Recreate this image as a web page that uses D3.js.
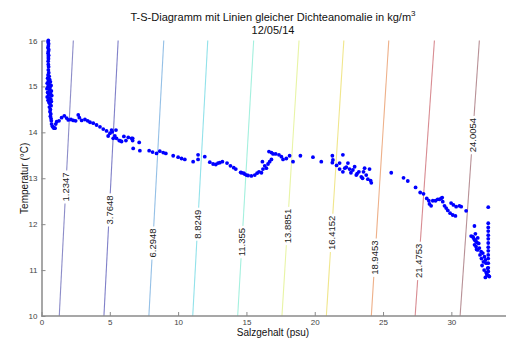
<!DOCTYPE html>
<html><head><meta charset="utf-8">
<script src="https://cdn.jsdelivr.net/npm/d3@7"></script>
<style>html,body{margin:0;padding:0;background:#fff;}svg{display:block;font-family:"Liberation Sans",Arial,sans-serif;}</style>
</head><body><svg id="c" width="516" height="338"></svg>
<script>
// ---- data ----
const xTicks = [0, 5, 10, 15, 20, 25, 30];
const yTicks = [10, 11, 12, 13, 14, 15, 16];
const levelLabels = ["1.2347","3.7648","6.2948","8.8249","11.355","13.8851","16.4152","18.9453","21.4753","24.0054"];
const levelSalBottom = [1.30, 4.57, 7.86, 11.07, 14.36, 17.60, 20.85, 24.14, 27.35, 30.64]; // S at T=10
const levelSalTop = [2.33, 5.61, 8.95, 12.17, 15.53, 18.85, 22.13, 25.42, 28.76, 32.05];    // S at T=16
const levelLabelT = [12.81, 12.31, 11.59, 12.0, 11.61, 11.96, 11.81, 11.27, 11.20, 13.94];
const levelColors = ["#8c8cc8","#8080c8","#94c0e6","#92e2ea","#a4f0de","#e8f4a6","#f0e68c","#eeb08a","#d88c92","#b89096"];
const salinity = [
0.50,0.48,0.52,0.50,0.47,0.53,0.50,0.48,0.52,0.50,0.51,0.49,0.50,0.52,0.50,0.53,0.48,0.56,0.45,0.60,0.50,0.65,0.42,0.55,0.70,0.48,0.62,0.40,0.58,0.72,0.45,0.65,0.52,0.75,0.42,0.60,0.68,0.48,0.72,0.55,0.62,0.70,0.58,0.65,0.62,0.68,0.65,0.70,0.72,
0.74,0.80,0.87,0.95,0.99,1.04,1.11,1.28,1.47,1.67,1.84,1.96,2.16,2.33,2.50,2.69,2.77,2.94,3.18,3.38,3.55,3.79,4.03,4.28,4.52,4.76,5.01,5.13,5.18,5.37,5.45,4.88,5.25,5.49,5.69,5.74,5.86,6.03,6.18,6.35,6.59,6.67,6.67,6.71,7.15,7.20,
7.88,8.13,8.42,8.66,8.91,9.10,9.64,10.00,10.25,10.49,11.10,11.46,11.46,11.95,12.32,12.56,12.76,12.92,13.05,13.24,13.58,13.83,14.07,14.22,14.58,14.80,15.00,
14.63,14.87,15.12,15.36,15.61,15.78,15.92,16.10,16.21,16.34,16.17,16.46,16.58,16.70,16.83,16.65,16.83,16.95,17.14,17.38,17.56,17.68,17.92,18.16,18.41,18.95,19.87,20.48,
21.29,21.29,21.33,21.82,22.06,21.82,22.06,22.31,22.43,22.55,22.79,22.92,23.04,23.23,23.41,23.57,23.65,23.77,23.89,24.01,24.09,24.14,21.60,22.20,22.65,23.10,23.50,
25.60,26.50,26.81,27.38,27.72,27.96,28.20,28.35,28.40,28.52,28.64,28.84,29.00,29.13,29.25,29.33,29.37,29.50,29.62,29.74,29.91,30.10,30.30,29.98,30.15,30.35,30.59,30.72,31.08,
31.69,31.76,31.56,31.69,31.81,31.93,32.00,31.81,32.05,31.93,32.18,32.30,32.42,32.49,32.54,32.66,32.66,32.49,32.78,31.45,31.62,31.75,31.88,31.70,31.85,32.10,32.20,32.35,32.25,32.40,32.55,32.60,
32.70,32.70,32.70,32.70,32.70,32.70,32.70,32.70,32.70,32.70,32.70,32.70,32.70,32.70,32.70
];
const temperature = [
16.00,15.97,15.93,15.88,15.84,15.80,15.76,15.72,15.68,15.64,15.60,15.55,15.48,15.43,15.36,15.30,15.25,15.22,15.18,15.15,15.12,15.10,15.07,15.05,15.02,15.00,14.97,14.95,14.92,14.90,14.87,14.85,14.82,14.80,14.77,14.75,14.72,14.70,14.67,14.65,14.62,14.58,14.55,14.50,14.45,14.40,14.35,14.30,14.25,
14.18,14.13,14.10,14.09,14.09,14.18,14.23,14.25,14.32,14.36,14.31,14.27,14.28,14.26,14.25,14.38,14.32,14.26,14.28,14.25,14.22,14.20,14.16,14.12,14.07,14.03,13.98,14.05,14.01,13.92,14.05,13.92,13.87,13.87,13.82,13.82,13.80,13.91,13.82,13.89,13.87,13.87,13.82,13.65,13.78,13.60,
13.60,13.57,13.54,13.59,13.56,13.54,13.49,13.46,13.43,13.41,13.36,13.51,13.41,13.47,13.35,13.31,13.30,13.33,13.34,13.36,13.33,13.27,13.23,13.20,13.13,13.11,13.07,
13.12,13.09,13.06,13.05,13.07,13.11,13.14,13.12,13.20,13.27,13.36,13.22,13.31,13.36,13.41,13.58,13.56,13.53,13.53,13.51,13.47,13.41,13.43,13.49,13.36,13.49,13.46,13.36,
13.49,13.34,13.40,13.33,13.51,13.20,13.14,13.24,13.33,13.20,13.18,13.25,13.07,13.14,13.03,13.14,13.22,13.07,12.98,13.20,12.95,12.90,13.28,13.22,13.12,13.10,13.00,
13.12,13.01,12.94,12.80,12.69,12.66,12.56,12.51,12.44,12.40,12.51,12.51,12.54,12.54,12.56,12.58,12.49,12.40,12.35,12.30,12.24,12.20,12.18,12.46,12.42,12.38,12.40,12.38,12.29,
11.96,11.79,11.73,11.66,11.62,11.70,11.58,11.51,11.48,11.44,11.40,11.37,11.29,11.22,11.15,11.04,10.89,10.84,10.86,11.74,11.70,11.65,11.60,11.55,11.45,11.33,11.25,11.18,11.10,11.00,10.95,10.90,
12.37,12.02,11.93,11.85,11.76,11.68,11.59,11.50,11.42,11.33,11.25,11.15,11.05,10.97,10.88
];

// ---- layout ----
const svg = d3.select("#c");
const x = d3.scaleLinear().domain([0, 34]).range([41.5, 506]);
const y = d3.scaleLinear().domain([10, 16]).range([316, 40.5]);
const axisColor = "#8a8a8a";

// title
const title = svg.append("text").attr("x", 273).attr("y", 21).attr("text-anchor", "middle")
  .attr("font-size", 11).attr("fill", "#111");
title.append("tspan").text("T-S-Diagramm mit Linien gleicher Dichteanomalie in kg/m");
title.append("tspan").attr("dy", -5).attr("font-size", 8).text("3");
svg.append("text").attr("x", 273).attr("y", 34).attr("text-anchor", "middle")
  .attr("font-size", 11).attr("fill", "#111").text("12/05/14");

// contour lines
const cg = svg.append("g");
const line = d3.line().x(d => x(d[0])).y(d => y(d[1]));
levelLabels.forEach((lab, i) => {
  const pts = [[levelSalBottom[i], 10], [levelSalTop[i], 16]];
  cg.append("path").attr("d", line(pts)).attr("fill", "none")
    .attr("stroke", levelColors[i]).attr("stroke-width", 1.1);
});
levelLabels.forEach((lab, i) => {
  const t = levelLabelT[i];
  const s = levelSalBottom[i] + (levelSalTop[i] - levelSalBottom[i]) * (t - 10) / 6;
  const px = x(s), py = y(t);
  const g = cg.append("g").attr("transform", `translate(${px},${py}) rotate(-90)`);
  const tx = g.append("text").attr("text-anchor", "middle").attr("dy", "0.35em")
    .attr("font-size", 9.5).attr("fill", "#222").text(lab);
  const bb = tx.node().getBBox();
  g.insert("rect", "text").attr("x", bb.x - 2).attr("y", bb.y).attr("width", bb.width + 4)
    .attr("height", bb.height).attr("fill", "#fff");
});

// axes
const fmt = d3.format("d");
const xAxis = d3.axisBottom(x).tickValues(xTicks).tickFormat(fmt).tickSizeInner(-4).tickSizeOuter(0).tickPadding(3);
const yAxis = d3.axisLeft(y).tickValues(yTicks).tickFormat(fmt).tickSizeInner(-4).tickSizeOuter(0).tickPadding(4);
const gx = svg.append("g").attr("transform", `translate(0,${y(10)})`).call(xAxis);
const gy = svg.append("g").attr("transform", `translate(${x(0)},0)`).call(yAxis);
[gx, gy].forEach(g => {
  g.select(".domain").attr("stroke", axisColor).attr("stroke-width", 1.5);
  g.selectAll(".tick line").attr("stroke", axisColor);
  g.selectAll(".tick text").attr("font-size", 8).attr("fill", "#444")
    .attr("font-family", "Liberation Sans, Arial, sans-serif");
});
gx.select(".domain").attr("d", `M${x(0)},0H${x(34)}`);

// axis labels
svg.append("text").attr("x", 273).attr("y", 336).attr("text-anchor", "middle")
  .attr("font-size", 10).attr("fill", "#111").text("Salzgehalt (psu)");
svg.append("text").attr("transform", `translate(28,${y(13)}) rotate(-90)`).attr("text-anchor", "middle")
  .attr("font-size", 10).attr("fill", "#111").text("Temperatur (°C)");

// data points
const pts = salinity.map((s, i) => [s, temperature[i]]);
svg.append("g").selectAll("circle").data(pts).join("circle")
  .attr("cx", d => x(d[0])).attr("cy", d => y(d[1])).attr("r", 1.9).attr("fill", "#0000ff");
</script></body></html>
